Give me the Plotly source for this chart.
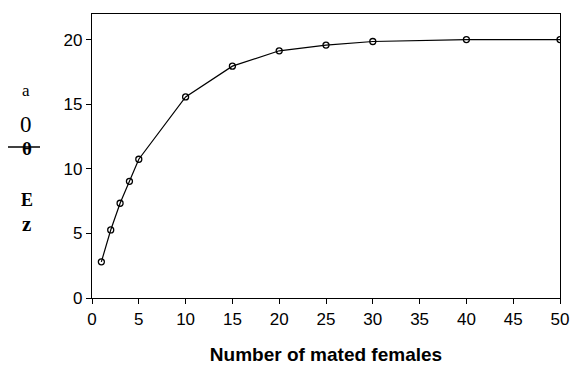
import plotly.graph_objects as go

mated_females = [1, 2, 3, 4, 5, 10, 15, 20, 25, 30, 40, 50]
response = [2.8, 5.27, 7.34, 9.04, 10.75, 15.58, 17.96, 19.15, 19.59, 19.87, 20.02, 20.02]
x_ticks = [0, 5, 10, 15, 20, 25, 30, 35, 40, 45, 50]
y_ticks = [0, 5, 10, 15, 20]

OFF = 7  # page body offset
W, H = 582 - OFF, 368 - OFF
PL, PR, PT, PB = 91, 559, 13, 297  # target plot area in page pixels
L, T = PL - OFF, PT - OFF
R, B = 582 - PR, 368 - PB
pw, ph = PR - PL, PB - PT

def px(x):
    return (x - PL) / pw

def py(y):
    return (PB - y) / ph

fig = go.Figure()
fig.add_trace(go.Scatter(
    x=mated_females, y=response, mode="lines+markers",
    line=dict(color="black", width=1.2),
    marker=dict(symbol="circle-open", size=6, color="black", line=dict(width=1.3)),
    showlegend=False,
))

axis_common = dict(
    showline=True, linecolor="black", linewidth=1.2, mirror=True,
    ticks="outside", ticklen=5, tickcolor="black", tickwidth=1,
    showgrid=False, zeroline=False,
    tickfont=dict(family="Liberation Sans, Arial", size=17, color="black"),
)

fig.update_xaxes(range=[0, 50], tickvals=x_ticks, **axis_common,
                 title=dict(text="<b>Number of mated females</b>",
                            font=dict(family="Liberation Sans, Arial", size=19, color="black"),
                            standoff=20))
fig.update_yaxes(range=[0, 22], tickvals=y_ticks, **axis_common)

serif = "Liberation Serif, Times New Roman"
labels = [
    ("a", 24.5, 90, 17, False),
    ("0", 25, 123, 23, False),
    ("θ", 26, 147, 19, True),
    ("E", 26, 199, 18, True),
    ("z", 25, 223, 21, True),
]
for txt, x, y, s, bold in labels:
    fig.add_annotation(
        text=f"<b>{txt}</b>" if bold else txt, x=px(x), y=py(y),
        xref="paper", yref="paper", showarrow=False,
        font=dict(family=serif, size=s, color="black"),
        xanchor="center", yanchor="middle",
    )
fig.add_shape(type="line", xref="paper", yref="paper",
              x0=px(0), x1=px(39), y0=py(146), y1=py(146),
              line=dict(color="black", width=1.5))

fig.update_layout(
    width=W, height=H,
    margin=dict(l=L, r=R, t=T, b=B),
    paper_bgcolor="white", plot_bgcolor="white",
)

fig.write_html("out.html")
